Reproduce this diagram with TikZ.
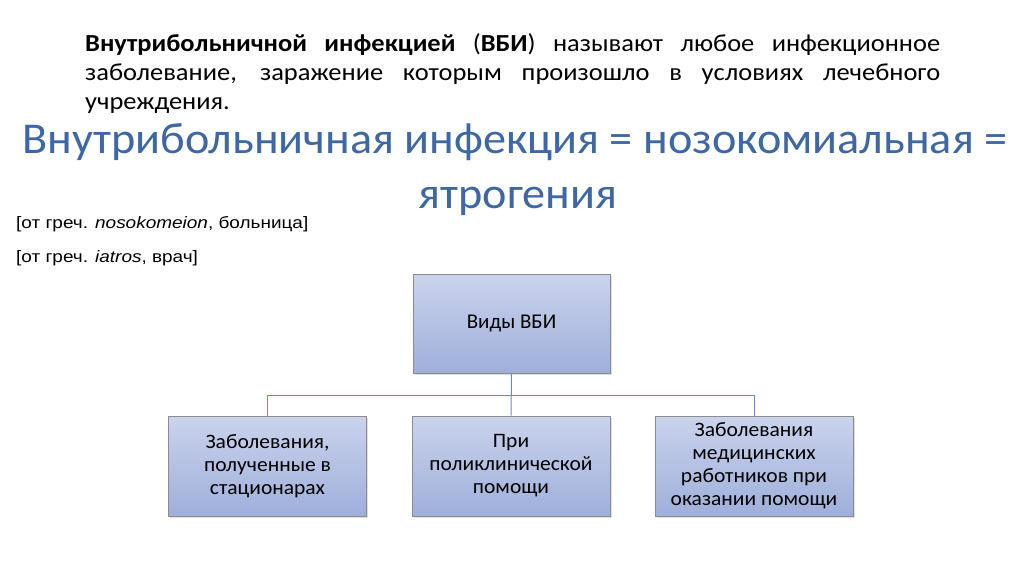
\documentclass[tikz,border=0pt]{standalone}
\usepackage{fontspec}
\setmainfont{Carlito}
\newfontfamily\arialf[FakeStretch=1.15]{Liberation Sans}
\newfontfamily\parafont[FakeStretch=1.08]{Carlito}
\newfontfamily\titlefont[FakeStretch=1.05]{Carlito}
\newfontfamily\boxfont[FakeStretch=1.05]{Carlito}
\usetikzlibrary{shadows}
\definecolor{titleblue}{HTML}{3E67A6}
\definecolor{boxtop}{HTML}{CBD3EC}
\definecolor{boxbot}{HTML}{9EAFDB}
\definecolor{boxline}{HTML}{8C8C8C}
\definecolor{linkblue}{HTML}{6F8AC0}
\begin{document}
\begin{tikzpicture}[x=1pt,y=-1pt,
  vbox/.style={draw=boxline, line width=0.8pt, top color=boxtop, bottom color=boxbot,
    minimum width=198pt, minimum height=100pt, align=center,
    font=\boxfont\fontsize{20.5}{23}\selectfont,
    drop shadow={opacity=0.25,shadow xshift=1.5pt,shadow yshift=-1.5pt}},
  link/.style={draw=linkblue, line width=1pt},
  titletext/.style={anchor=base, inner sep=0pt, font=\titlefont\fontsize{44}{53}\selectfont, text=titleblue},
  greek/.style={anchor=base west, inner sep=0pt, font=\arialf\fontsize{16.5}{20}\selectfont}]
\useasboundingbox[fill=white] (0,0) rectangle (1024,574);
\node[anchor=base west, text width=855pt, align=justify, inner sep=0pt,
  font=\parafont\fontsize{24.5}{29}\selectfont] (para) at (85,51)
  {\textbf{Внутрибольничной инфекцией} (\textbf{ВБИ}) называют любое инфекционное\linebreak заболевание, заражение которым произошло в условиях лечебного\linebreak учреждения.};
\node[titletext] (t1) at (515,153) {Внутрибольничная инфекция = нозокомиальная =};
\node[titletext] (t2) at (518,208) {ятрогения};
\node[greek] (g1) at (16,228) {[от греч. \textit{nosokomeion}, больница]};
\node[greek] (g2) at (16,262) {[от греч. \textit{iatros}, врач]};
\node[vbox, minimum width=197pt, minimum height=99pt, font=\fontsize{21}{24}\selectfont] (top) at (511.5,323.5) {Виды ВБИ};
\node[vbox] (left) at (267.5,466) {Заболевания,\\полученные в\\стационарах};
\node[vbox] (mid) at (511,466) {При\\поликлинической\\помощи};
\node[vbox] (right) at (754,466) {Заболевания\\медицинских\\работников при\\оказании помощи};
\coordinate (j) at (511,395);
\draw[link] (top.south) -- (mid.north);
\draw[link] (left.north) |- (j) -| (right.north);
\end{tikzpicture}
\end{document}
